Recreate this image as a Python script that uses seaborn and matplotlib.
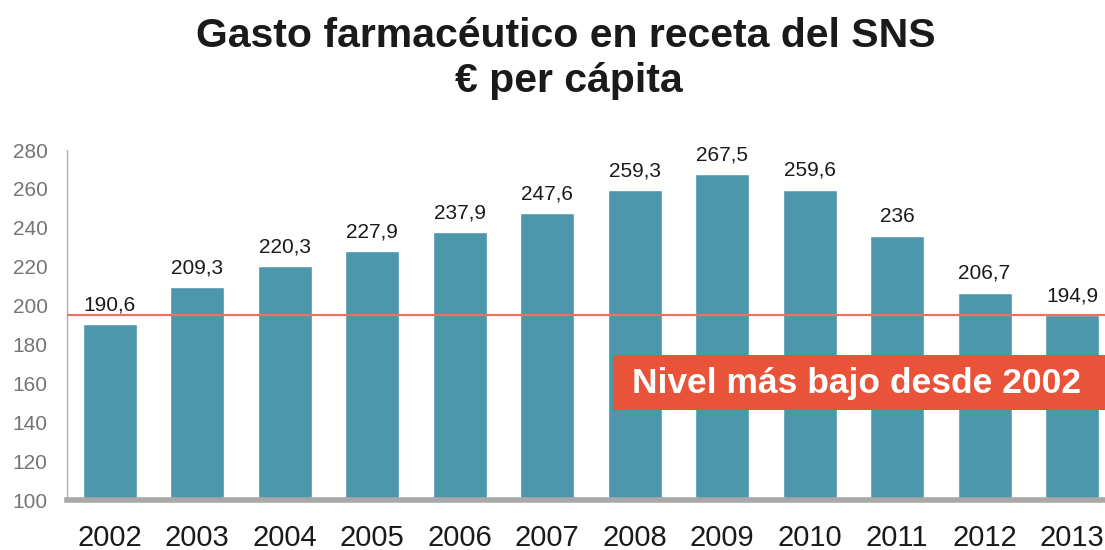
import matplotlib
matplotlib.use("Agg")
import matplotlib.pyplot as plt
import seaborn as sns
import pandas as pd
from matplotlib.patches import Rectangle

years = ["2002", "2003", "2004", "2005", "2006", "2007", "2008", "2009", "2010", "2011", "2012", "2013"]
values = [190.6, 209.3, 220.3, 227.9, 237.9, 247.6, 259.3, 267.5, 259.6, 236.0, 206.7, 194.9]
labels = ["190,6", "209,3", "220,3", "227,9", "237,9", "247,6", "259,3", "267,5", "259,6", "236", "206,7", "194,9"]
yticks = [100, 120, 140, 160, 180, 200, 220, 240, 260, 280]
title1 = "Gasto farmacéutico en receta del SNS"
title2 = "€ per cápita"
note = "Nivel más bajo desde 2002"
ref_value = 194.9

sns.set_theme(style="white")
plt.rcParams['font.family'] = ['Liberation Sans', 'DejaVu Sans']

df = pd.DataFrame({"year": years, "value": values})

fig = plt.figure(figsize=(11.05, 5.5), dpi=100)
ax = fig.add_axes([67/1105, 50/550, 1 - 67/1105, 350/550])

sns.barplot(data=df, x="year", y="value", color="#4C97AB", saturation=1, width=0.617, ax=ax)

ax.set_ylim(100, 280)
ax.set_xlim(-0.486, 11.377)
ax.set_yticks(yticks)
ax.set_yticklabels([str(t) for t in yticks], color="#747474", fontsize=15)
ax.tick_params(axis="x", labelsize=21, colors="#1a1a1a", length=0, pad=17)
ax.tick_params(axis="y", length=0, pad=14)
ax.set_xlabel("")
ax.set_ylabel("")

for s in ["top", "right"]:
    ax.spines[s].set_visible(False)
ax.spines["left"].set_color("#b0b0b0")
ax.spines["left"].set_linewidth(1.0)
ax.spines["bottom"].set_color("#a8a8a8")
ax.spines["bottom"].set_linewidth(4)

for i, (v, lab) in enumerate(zip(values, labels)):
    ax.annotate(lab, (i, v), xytext=(0, 7), textcoords="offset points",
                ha="center", va="bottom", fontsize=15, color="#1a1a1a")

ax.axhline(ref_value, color="#E8735F", linewidth=1.6, zorder=3)

# highlight box
box = Rectangle((613/1105, (550-410)/550), 1 - 613/1105, 55/550, transform=fig.transFigure,
                facecolor="#E8533A", edgecolor="none", zorder=5)
fig.patches.append(box)
fig.text(857/1105, 1 - 383/550, note, ha="center", va="center", color="white",
         fontsize=25.5, fontweight="bold", zorder=6)

fig.text(0.512, 1 - 36/550, title1, ha="center", va="center", fontsize=29.5, fontweight="bold", color="#1a1a1a")
fig.text(0.515, 1 - 81/550, title2, ha="center", va="center", fontsize=29.5, fontweight="bold", color="#1a1a1a")

fig.savefig("out.png", dpi=100)
